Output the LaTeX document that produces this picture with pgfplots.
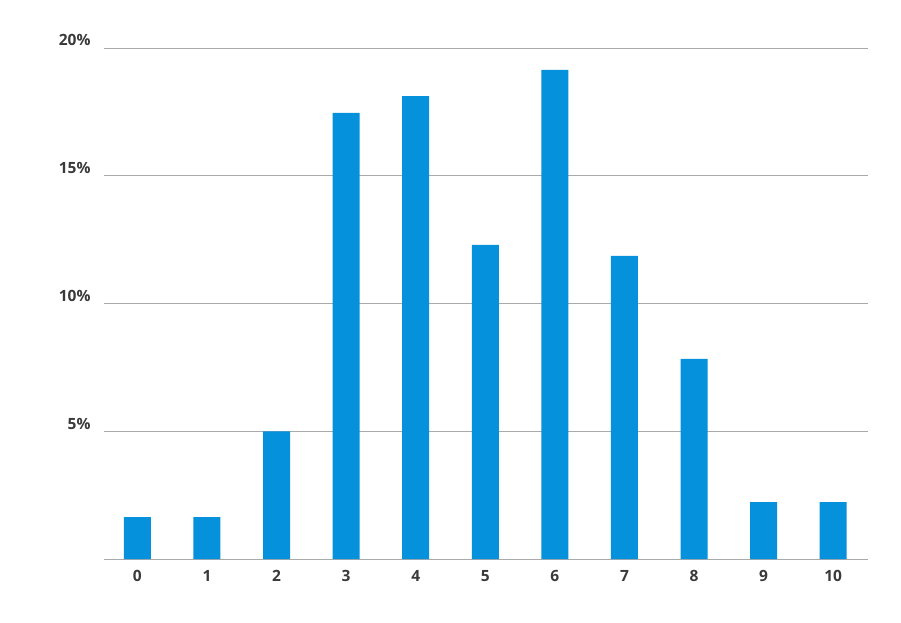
\documentclass[border=0pt]{standalone}
\usepackage{fontspec}
\setmainfont{Open Sans}
\usepackage{pgfplots}
\pgfplotsset{compat=1.18}
\definecolor{barblue}{HTML}{0591DC}
\definecolor{gridgray}{HTML}{AAAAAA}
\definecolor{labgray}{HTML}{3A3A3A}
\begin{document}
\begin{tikzpicture}[x=1pt,y=1pt]
\begin{axis}[
    at={(0,0)}, anchor=south west,
    scale only axis,
    width=764pt, height=511pt,
    xmin=-0.48, xmax=10.5,
    ymin=0, ymax=20,
    axis x line*=bottom,
    axis y line*=left,
    x axis line style={gridgray, line width=0.8pt},
    y axis line style={draw=none},
    ytick={5,10,15,20},
    yticklabels={5\%,10\%,15\%,20\%},
    xtick={0,...,10},
    ymajorgrids,
    major grid style={gridgray, line width=0.6pt},
    major tick length=0pt,
    tick style={draw=none},
    ticklabel style={font=\fontsize{15.5}{18}\selectfont\bfseries, text=labgray},
    yticklabel style={anchor=base east, yshift=2pt, xshift=-10pt},
    xticklabel style={yshift=-8pt},
    /pgf/number format/assume math mode=true,
    ybar, bar width=27pt,
    clip=false,
]
\addplot[fill=barblue, draw=none] coordinates {
    (0,1.64) (1,1.64) (2,5.0) (3,17.46) (4,18.12) (5,12.29)
    (6,19.14) (7,11.86) (8,7.83) (9,2.23) (10,2.23)
};
\end{axis}
\path[use as bounding box] (-104pt,-63pt) rectangle (797pt,559pt);
\end{tikzpicture}
\end{document}
